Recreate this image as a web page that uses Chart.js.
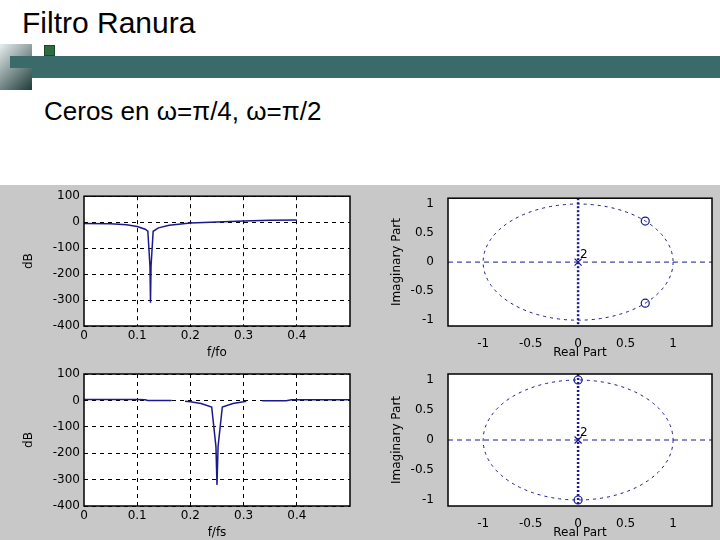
<!DOCTYPE html>
<html><head><meta charset="utf-8">
<script src="https://cdn.jsdelivr.net/npm/chart.js@4"></script>
<style>
body{margin:0;width:720px;height:540px;background:#fff;position:relative;overflow:hidden;font-family:"Liberation Sans",Arial,sans-serif}
.c{position:absolute}
#gray{position:absolute;left:0;top:185px;width:720px;height:355px;background:#c8c8c8}
</style></head><body>
<div style="position:absolute;left:22px;top:6px;font-size:30px">Filtro Ranura</div>
<div style="position:absolute;left:0;top:44px;width:32px;height:46px;background:linear-gradient(135deg,#e8eeee,#1d3a3a)"></div>
<div style="position:absolute;left:32px;top:56px;width:688px;height:22px;background:#3a6a6a"></div>
<div style="position:absolute;left:10px;top:56px;width:22px;height:12px;background:#3a6a6a"></div>
<div style="position:absolute;left:44px;top:45px;width:9px;height:9px;background:#2e6b3e;border:1px solid #1a4a2a"></div>
<div style="position:absolute;left:44px;top:96px;font-size:26px">Ceros en ω=π/4, ω=π/2</div>
<div id="gray"></div>
<canvas id="c1" class="c" style="left:0;top:185px" width="360" height="175"></canvas>
<canvas id="c2" class="c" style="left:360px;top:185px" width="360" height="175"></canvas>
<canvas id="c3" class="c" style="left:0;top:360px" width="360" height="180"></canvas>
<canvas id="c4" class="c" style="left:360px;top:360px" width="360" height="180"></canvas>
<script>
const freq1=[0,0.05,0.08,0.1,0.115,0.12,0.124,0.125,0.126,0.13,0.14,0.16,0.2,0.25,0.3,0.35,0.4];
const dB1=[-5,-6,-10,-17,-27,-35,-170,-310,-170,-35,-22,-12,-3,1,4,7,8];
const freq2=[0,0.05,0.1,0.115,0.12,0.165,0.17,0.19,0.2,0.22,0.24,0.248,0.25,0.252,0.26,0.28,0.3,0.305,0.31,0.335,0.38,0.39,0.5];
const dB2=[3,3,3,2,0,0,null,-3,-5,-12,-25,-175,-320,-175,-25,-12,-5,-3,null,-1,-1,2,2];
const zerosRe1=[0.707,0.707], zerosIm1=[0.707,-0.707];
const zerosRe2=[0,0], zerosIm2=[1,-1];
const polesRe=[0], polesIm=[0];
const dbTicks=[100,0,-100,-200,-300,-400];
const fTicks=[0,0.1,0.2,0.3,0.4];
const pzTicks=[-1,-0.5,0,0.5,1];

const tickFont={family:'"DejaVu Sans",sans-serif',size:12};
const grid={color:'#000',lineWidth:1,drawTicks:false};
function fixed(w,h){return s=>{ if(w!=null) s.width=w; if(h!=null) s.height=h; };}
const fmt=v=>String(Math.round(v*100)/100);
const frame={id:'frame',afterDraw(c){const a=c.chartArea,x=c.ctx;x.save();x.strokeStyle='#000';x.lineWidth=1.5;x.strokeRect(a.left,a.top,a.right-a.left,a.bottom-a.top);x.restore();}};
const bg={id:'bg',beforeDraw(c){const a=c.chartArea,x=c.ctx;x.save();x.fillStyle='#fff';x.fillRect(a.left,a.top,a.right-a.left,a.bottom-a.top);x.restore();}};

function dbChart(id,fx,fy,xlab,top){
 new Chart(document.getElementById(id),{type:'line',
  data:{datasets:[{data:fx.map((f,i)=>({x:f,y:fy[i]})),borderColor:'#1a1a8c',borderWidth:1.5,pointRadius:0,spanGaps:false,tension:0}]},
  options:{responsive:false,animation:false,layout:{padding:{top:top,right:10,left:22,bottom:0}},
   plugins:{legend:{display:false},tooltip:{enabled:false}},
   scales:{
    x:{type:'linear',min:0,max:0.5,afterFit:fixed(null,34),afterBuildTicks:s=>{s.ticks=fTicks.map(v=>({value:v}));},
       grid:{...grid,lineWidth:c=>(c.tick&&(c.tick.value===0))?0:1},border:{display:false,dash:[4,4]},
       ticks:{font:tickFont,color:'#000',padding:3,callback:fmt},
       title:{display:true,text:xlab,font:{size:12},color:'#000',padding:0}},
    y:{min:-400,max:100,afterFit:fixed(62,null),afterBuildTicks:s=>{s.ticks=dbTicks.map(v=>({value:v}));},
       grid:{...grid},border:{display:false,dash:[4,4]},
       ticks:{font:tickFont,color:'#000',padding:4},
       title:{display:true,text:'dB',font:{size:12},color:'#000',padding:0}}}},
  plugins:[bg,frame]});
}
const circle={id:'circle',beforeDatasetsDraw(c){const x=c.scales.x,y=c.scales.y,ctx=c.ctx;ctx.save();ctx.strokeStyle='#1a1a8c';ctx.lineWidth=1;ctx.setLineDash([3,4]);
 const cx=x.getPixelForValue(0),cy=y.getPixelForValue(0);ctx.beginPath();ctx.ellipse(cx,cy,x.getPixelForValue(1)-cx,cy-y.getPixelForValue(1),0,0,2*Math.PI);ctx.stroke();
 ctx.setLineDash([5,4]);ctx.lineWidth=1;ctx.beginPath();ctx.moveTo(c.chartArea.left,cy);ctx.lineTo(c.chartArea.right,cy);ctx.stroke();
 ctx.setLineDash([2,2]);ctx.lineWidth=2.5;ctx.beginPath();ctx.moveTo(cx,c.chartArea.top);ctx.lineTo(cx,c.chartArea.bottom);ctx.stroke();
 ctx.setLineDash([]);ctx.fillStyle='#000';ctx.font='12px "DejaVu Sans"';ctx.fillText('2',cx+2,cy-4);ctx.restore();}};
function pzChart(id,zr,zi,top){
 new Chart(document.getElementById(id),{type:'scatter',
  data:{datasets:[
   {data:zr.map((r,i)=>({x:r,y:zi[i]})),pointStyle:'circle',pointRadius:4,borderColor:'#1a1a8c',backgroundColor:'rgba(0,0,0,0)',borderWidth:1.2},
   {data:polesRe.map((r,i)=>({x:r,y:polesIm[i]})),pointStyle:'crossRot',pointRadius:5,borderColor:'#1a1a8c',borderWidth:1.2}]},
  options:{responsive:false,animation:false,layout:{padding:{top:top,right:8,left:30,bottom:0}},
   plugins:{legend:{display:false},tooltip:{enabled:false}},
   scales:{
    x:{type:'linear',min:-1.37,max:1.41,afterFit:fixed(null,34),afterBuildTicks:s=>{s.ticks=pzTicks.map(v=>({value:v}));},
       grid:{display:false},border:{display:false},ticks:{font:tickFont,color:'#000',padding:3,callback:fmt},
       title:{display:true,text:'Real Part',font:{size:12},color:'#000',padding:0}},
    y:{min:-1.1,max:1.1,afterFit:fixed(58,null),afterBuildTicks:s=>{s.ticks=pzTicks.slice().reverse().map(v=>({value:v}));},
       grid:{display:false},border:{display:false},
       ticks:{font:tickFont,color:'#000',padding:6,callback:fmt},
       title:{display:true,text:'Imaginary Part',font:{size:12},color:'#000',padding:0}}}},
  plugins:[bg,circle,frame]});
}
Chart.defaults.font.family='"DejaVu Sans",sans-serif';
dbChart('c1',freq1,dB1,'f/fo',10);
pzChart('c2',zerosRe1,zerosIm1,10);
dbChart('c3',freq2,dB2,'f/fs',14);
pzChart('c4',zerosRe2,zerosIm2,14);
</script></body></html>
